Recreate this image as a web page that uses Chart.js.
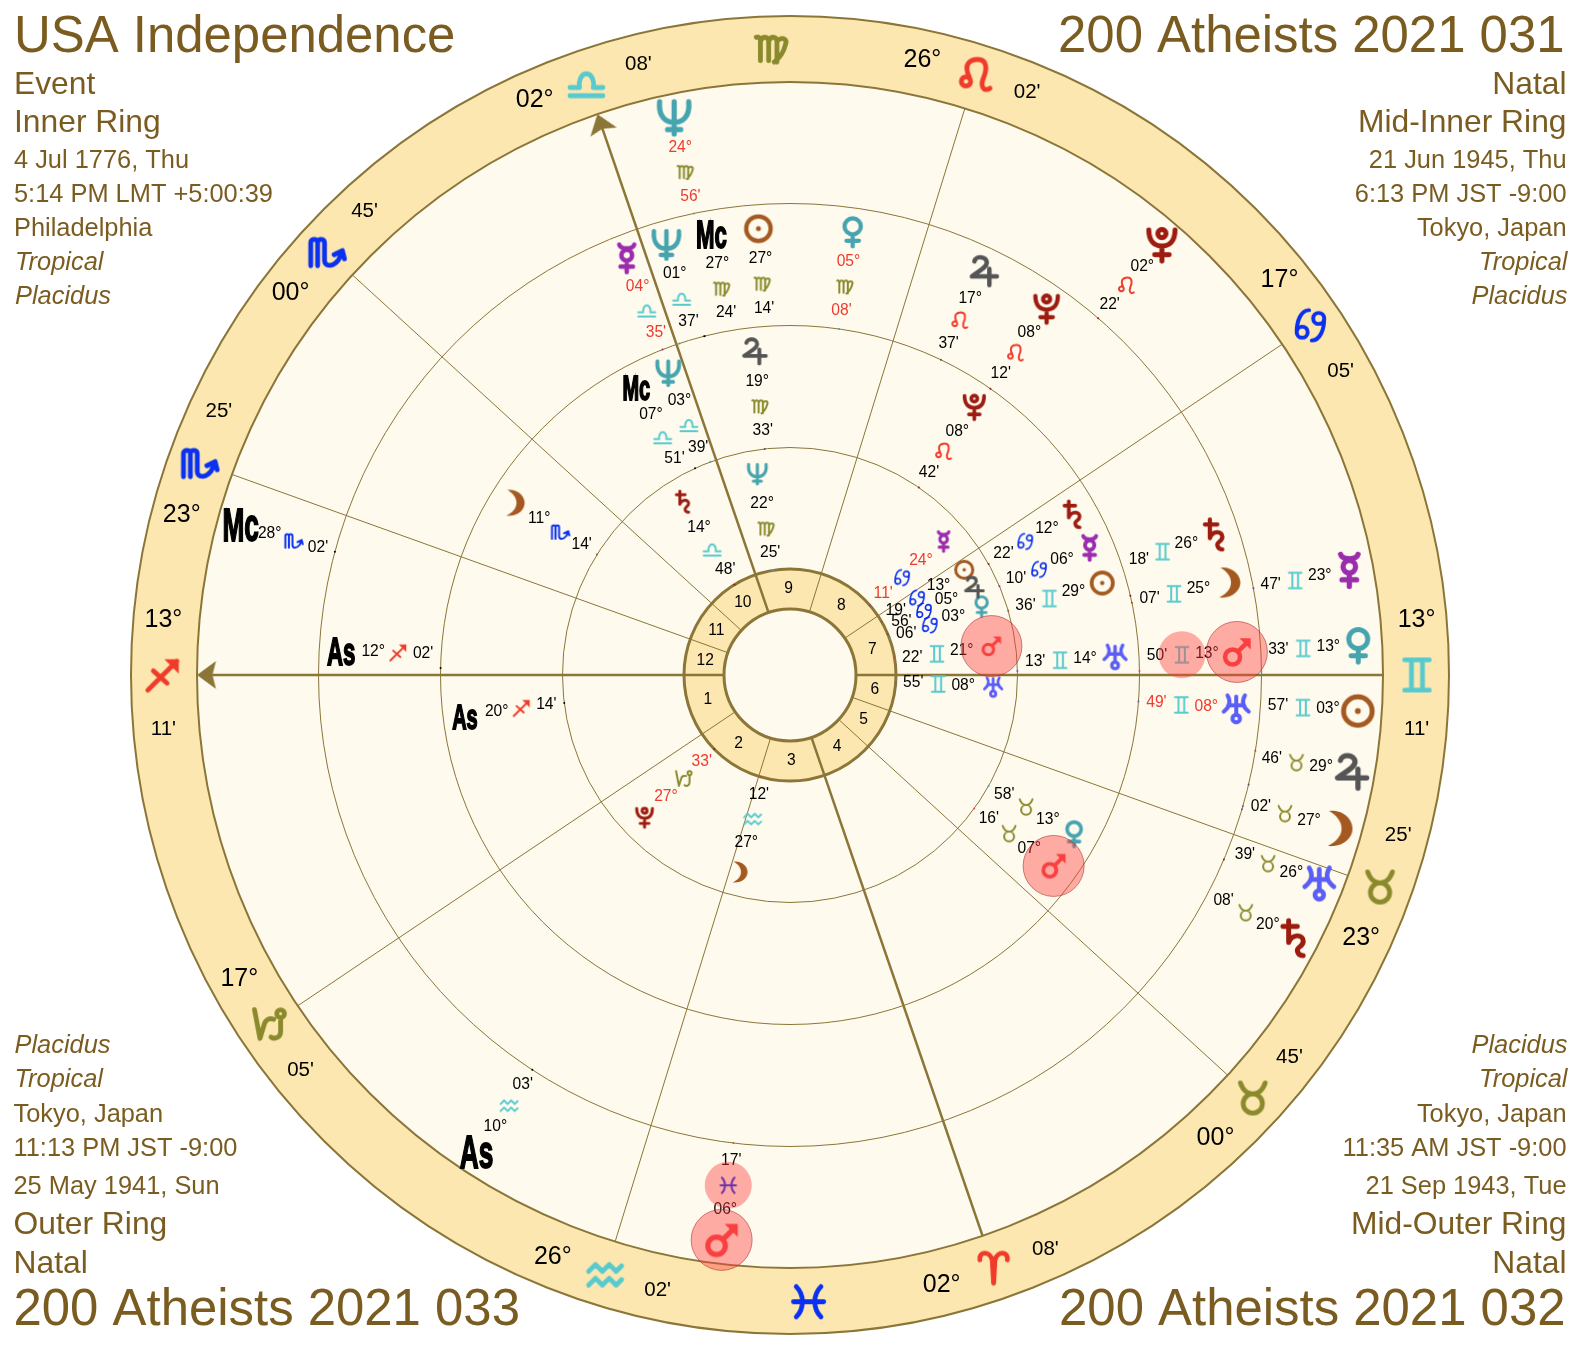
<!DOCTYPE html>
<html>
<head>
<meta charset="utf-8">
<title>USA Independence quad-wheel</title>
<script src="https://cdn.jsdelivr.net/npm/chart.js@4"></script>
<style>
  html, body { margin: 0; padding: 0; background: #fff; }
  canvas { display: block; }
</style>
</head>
<body>
<canvas id="wheel" width="1580" height="1350"></canvas>
<script>
// ── Data ─────────────────────────────────────────────────────
const signNames = ['Ari','Tau','Gem','Can','Leo','Vir','Lib','Sco','Sag','Cap','Aqu','Pis'];
const bodyNames = ['Sun','Moon','Mercury','Venus','Mars','Jupiter','Saturn','Uranus','Neptune','Pluto','Mc','As'];

// house cusps 1..12
const cuspSigns = ['Sag','Cap','Aqu','Ari','Tau','Tau','Gem','Can','Leo','Lib','Sco','Sco'];
const cuspDegs  = [13,17,26,2,0,23,13,17,26,2,0,23];
const cuspMins  = [11,5,2,8,45,25,11,5,2,8,45,25];
const interceptedSigns = ['Vir','Pis'];
const interceptedAfterCusp = [8,2];

// inner ring: USA Independence
const innerSigns = ['Can','Aqu','Can','Can','Gem','Can','Lib','Gem','Vir','Cap'];
const innerDegs  = [13,27,24,3,21,5,14,8,22,27];
const innerMins  = [19,12,11,6,22,56,48,55,25,33];
const innerRetro = ['Mercury','Pluto'];

// mid-inner ring: 200 Atheists 2021 031
const midInnerSigns = ['Gem','Sco','Can','Tau','Tau','Vir','Can','Gem','Lib','Leo','Lib','Sag'];
const midInnerDegs  = [29,11,6,13,7,19,12,14,3,8,7,20];
const midInnerMins  = [36,14,10,58,16,33,22,13,39,42,51,14];
const midInnerRetro = [];

// mid-outer ring: 200 Atheists 2021 032
const midOuterSigns = ['Vir','Gem','Lib','Vir','Gem','Leo','Gem','Gem','Lib','Leo','Vir','Sag'];
const midOuterDegs  = [27,25,4,5,13,17,26,8,1,8,27,12];
const midOuterMins  = [14,7,35,8,50,37,18,49,37,12,24,2];
const midOuterRetro = ['Mercury','Venus','Uranus'];

// outer ring: 200 Atheists 2021 033
const outerSigns = ['Gem','Tau','Gem','Gem','Pis','Tau','Tau','Tau','Vir','Leo','Sco','Aqu'];
const outerDegs  = [3,27,23,13,6,29,20,26,24,2,28,10];
const outerMins  = [57,2,47,33,17,46,8,39,56,22,2,3];
const outerRetro = ['Neptune'];

const houseNumbers = ['1','2','3','4','5','6','7','8','9','10','11','12'];

const topLeftText = ['USA Independence','Event','Inner Ring','4 Jul 1776, Thu','5:14 PM LMT +5:00:39','Philadelphia','Tropical','Placidus'];
const topRightText = ['200 Atheists 2021 031','Natal','Mid-Inner Ring','21 Jun 1945, Thu','6:13 PM JST -9:00','Tokyo, Japan','Tropical','Placidus'];
const bottomLeftText = ['200 Atheists 2021 033','Natal','Outer Ring','25 May 1941, Sun','11:13 PM JST -9:00','Tokyo, Japan','Tropical','Placidus'];
const bottomRightText = ['200 Atheists 2021 032','Natal','Mid-Outer Ring','21 Sep 1943, Tue','11:35 AM JST -9:00','Tokyo, Japan','Tropical','Placidus'];

// ── Layout and style ─────────────────────────────────────────
const W = 1580, H = 1350;
const CX = 790, CY = 675;
const R_OUT = 659, R_BAND = 593, R_HOUSE = 106, R_HOLE = 66;
const RING_OUTER = [227.5, 349.5, 471.5, 593];
const RING_INNER = [106, 227.5, 349.5, 471.5];
const OFF_GLYPH = 24, OFF_DEG = 54, OFF_SIGN = 79, OFF_MIN = 104;
const GLYPH_SIZE = [21, 26, 30, 35];
const ANGLE_FONT = [0, 35, 39, 46];
const ANGLE_NUDGE = { As: { x: -3, y: 5 }, Mc: { x: -1, y: 1.5 } };

// sideways shift (degrees) the wheel applies so crowded glyphs don't collide
const NUDGE = [
  { Sun: 1, Jupiter: 2.8, Venus: -0.2, Uranus: 0.8, Moon: 1.4 },
  { Uranus: 2.1, Mc: 3.4, Neptune: 1.5, Saturn: 0.4 },
  { Sun: -10, Mc: -4.2, Neptune: -2.4, Mars: 2.3, Saturn: 5.2, As: -2.1 },
  { Venus: 2.6, Sun: 5.6, Jupiter: 3.6, Moon: 0.5, Uranus: -5, Saturn: -4.5 }
];
const SIGN_CIRCLE_RINGS = [2, 3];

const C = {
  band: '#FCE7B1', cream: '#FEFAEE', line: '#8B7638', text: '#7B5C20',
  red: '#F03A2E', ink: '#000'
};
const BODY_COLOR = {
  Sun:'#A3591F', Moon:'#A3591F', Mercury:'#9A2DAD', Venus:'#46A4AE', Mars:'#F44343',
  Jupiter:'#555', Saturn:'#9C1C10', Uranus:'#5A5DF6', Neptune:'#46A4AE', Pluto:'#9C1C10',
  Mc:'#000', As:'#000'
};
const SIGN_COLOR = {
  Ari:'#F03A2A', Tau:'#8A8A2C', Gem:'#58CACE', Can:'#0A30F0', Leo:'#F03A2A', Vir:'#8A8A2C',
  Lib:'#58CACE', Sco:'#0A30F0', Sag:'#F03A2A', Cap:'#8A8A2C', Aqu:'#58CACE', Pis:'#0A30F0'
};

// ── Glyph shapes (24 unit box, drawn into small canvases used as point styles) ──
const circ = (x, y, r) => `M${x - r} ${y}a${r} ${r} 0 1 0 ${2 * r} 0a${r} ${r} 0 1 0 ${-2 * r} 0`;
const GLYPHS = {
  Sun:     { s: circ(0, 0, 9.8), f: circ(0, 0, 2), w: 3.4 },
  Moon:    { f: 'M-6 -12C4 -13 10 -6 10 0C10 7 3 13 -7 12C-1 9 2.5 5 2.5 0C2.5 -5 -1 -9 -6 -12Z' },
  Mercury: { s: 'M-6 -11C-5 -7 5 -7 6 -11' + circ(0, -2.5, 4.3) + 'M0 2V11M-5 6.5H5', w: 3.6 },
  Venus:   { s: circ(0, -4.5, 6.5) + 'M0 2V11.5M-5 7H5', w: 3.4 },
  Mars:    { s: circ(-3.5, 4, 6) + 'M1 -.5L8 -7.5', f: 'M2 -11H11V-2Z', w: 3.6 },
  Jupiter: { s: 'M-7 -8C-6 -13 3 -12 3 -7C3 -3 -4 0 -9 4H11M5 -2V11', w: 3.6 },
  Saturn:  { s: 'M-8 -8H2M-4 -12V3C-2 -3 6 -3 6 2C6 6 1 6 2 9C2.5 11 4 12 6 12', w: 3.4 },
  Uranus:  { s: 'M-7 -11C-4 -6 -5 -2 -10 2M7 -11C4 -6 5 -2 10 2M0 -10V4M-6 -3H6' + circ(0, 7.5, 3), w: 3.2 },
  Neptune: { s: 'M-10 -11C-11 0 -5 3 0 3C5 3 11 0 10 -11M0 -11V11M-4.5 8H4.5', w: 3.6 },
  Pluto:   { s: 'M-9 -10C-9 -2 -5 1 0 1C5 1 9 -2 9 -10M0 1V11.5M-5 7H5' + circ(0, -7.5, 2.8), w: 3.4 },
  Ari:     { s: 'M-10 -6C-11 -12 -3 -13 -1 -6L0 11M10 -6C11 -12 3 -13 1 -6L0 11' },
  Tau:     { s: circ(0, 4, 7) + 'M-9 -11C-7 -5 -3 -3 0 -3C3 -3 7 -5 9 -11' },
  Gem:     { s: 'M-9 -11H9M-9 11H9M-4 -11V11M4 -11V11' },
  Can:     { s: circ(-6, 5, 4) + 'M-10 5C-10 -3 -7 -11 -1 -11' + circ(6, -5, 4) + 'M10 -5C10 3 7 11 1 11', w: 2.3 },
  Leo:     { s: circ(-6.5, 4, 3.4) + 'M-4 1C-9 -9 -3 -12 2 -12C9 -12 9 -5 6 2C4 7 6 12 11 9' },
  Vir:     { s: 'M-11 -8C-9 -9 -8 -7 -8 -5V9M-8 -5C-7 -9 -2 -9 -2 -5V9M-2 -5C-1 -9 4 -9 4 -5V10M4 -5C8 -9 12 -7 10 -2C9 2 6 7 2 10' },
  Lib:     { s: 'M-12 10H12M-12 4H-5C-6 0 -4 -6 0 -6C4 -6 6 0 5 4H12' },
  Sco:     { s: 'M-12 10V-7C-12 -10 -7 -10 -7 -7V10M-7 -7C-7 -10 -2 -10 -2 -7V6C-2 11 4 11 8 6L11 0M5 2L11 -1L12.5 5' },
  Sag:     { s: 'M-11 11L10 -10M-7 -3L3 6', f: 'M1 -11.5H11.5V-1Z' },
  Cap:     { s: 'M-11 -11L-7 10L-4 0C-3 -4 0 -5 3 -4' + circ(8, -8, 2.8) + 'M8 -5V5C8 9 4 11 1 9' },
  Aqu:     { s: 'M-12 -2L-7 -7L-2 -2L3 -7L8 -2L12 -6M-12 8L-7 3L-2 8L3 3L8 8L12 4' },
  Pis:     { s: 'M-9 -11C-3 -5 -3 5 -9 11M9 -11C3 -5 3 5 9 11M-11 0H11' }
};

const glyphCache = {};
function glyph(name, color, size, heavy) {
  const key = [name, color, size, heavy].join('|');
  if (glyphCache[key]) return glyphCache[key];
  const def = GLYPHS[name];
  const cv = document.createElement('canvas');
  cv.width = cv.height = Math.ceil(size * 1.4);
  const g = cv.getContext('2d');
  g.translate(cv.width / 2, cv.height / 2);
  g.scale(size / 24, size / 24);
  g.lineCap = 'round';
  g.lineJoin = 'round';
  g.strokeStyle = g.fillStyle = color;
  g.lineWidth = (def.w || 2.8) * (heavy || 1);
  if (def.s) g.stroke(new Path2D(def.s));
  if (def.f) g.fill(new Path2D(def.f));
  glyphCache[key] = cv;
  return cv;
}

function arrowHead() {
  const cv = document.createElement('canvas');
  cv.width = 32; cv.height = 26;
  const g = cv.getContext('2d');
  g.translate(16, 13);
  g.fillStyle = C.line;
  g.fill(new Path2D('M0 -9.5L14 9.5L0 6L-14 9.5Z'));
  return cv;
}

// ── Helpers ──────────────────────────────────────────────────
const longitude = (sign, deg, min) => signNames.indexOf(sign) * 30 + deg + min / 60;
const ASC_LON = longitude(cuspSigns[0], cuspDegs[0], cuspMins[0]);
const screenAngle = lon => lon - ASC_LON + 180;
function polar(angle, r) {
  const a = angle * Math.PI / 180;
  return { x: r * Math.cos(a), y: r * Math.sin(a) };
}
const pad = n => String(n).padStart(2, '0');
const norm = a => (a % 360 + 360) % 360;

const cuspAngles = cuspSigns.map((s, i) => norm(screenAngle(longitude(s, cuspDegs[i], cuspMins[i]))));

const rings = [
  { signs: innerSigns, degs: innerDegs, mins: innerMins, retro: innerRetro },
  { signs: midInnerSigns, degs: midInnerDegs, mins: midInnerMins, retro: midInnerRetro },
  { signs: midOuterSigns, degs: midOuterDegs, mins: midOuterMins, retro: midOuterRetro },
  { signs: outerSigns, degs: outerDegs, mins: outerMins, retro: outerRetro }
];

// ── Datasets ─────────────────────────────────────────────────
const datasets = [];
function addLayer(ds) {
  ds.order = 1000 - datasets.length;
  datasets.push(ds);
  return ds;
}
function disc(r, fill, stroke, width) {
  addLayer({ data: [{ x: 0, y: 0 }], pointRadius: r, pointBackgroundColor: fill, pointBorderColor: stroke, pointBorderWidth: width });
}
function pointLayer(list) {
  addLayer({
    data: list.map(p => ({ x: p.x, y: p.y })),
    pointRadius: 10,
    pointStyle: list.map(p => p.style),
    pointRotation: list.map(p => p.rot || 0)
  });
}

disc(R_OUT, C.band, C.line, 2);
disc(R_BAND, C.cream, C.line, 2);
RING_OUTER.slice(0, 3).forEach(r => disc(r, 'rgba(0,0,0,0)', C.line, 1));
disc(R_HOUSE, C.band, C.line, 3);

cuspAngles.forEach((a, i) => {
  const axis = i % 3 === 0;
  const arrowed = i === 0 || i === 9;
  addLayer({
    data: [polar(a, R_HOLE), polar(a, arrowed ? R_BAND - 8 : R_BAND)],
    showLine: true, pointRadius: 0,
    borderColor: C.line, borderWidth: axis ? 2.5 : 1
  });
});
disc(R_HOLE, C.cream, C.line, 3);

// arrows on As and Mc
const arrow = arrowHead();
pointLayer([cuspAngles[0], cuspAngles[9]].map(a => ({
  ...polar(a, R_BAND - 9.5), style: arrow, rot: 90 - a
})));

// little ticks at true longitude on the inner edge of each ring
rings.forEach((ring, k) => {
  const pts = ring.signs.map((s, i) => polar(screenAngle(longitude(s, ring.degs[i], ring.mins[i])), RING_INNER[k]));
  addLayer({
    data: pts, pointRadius: 1, pointBorderWidth: 0,
    pointBackgroundColor: ring.signs.map((s, i) => BODY_COLOR[bodyNames[i]])
  });
});

// zodiac glyphs in the band, on each cusp and for the intercepted signs
const bandGlyphs = cuspSigns.map((s, i) => ({ ...polar(cuspAngles[i], 627), style: glyph(s, SIGN_COLOR[s], 33, 1.25) }));
interceptedSigns.forEach((s, i) => {
  const c = interceptedAfterCusp[i];
  const a0 = cuspAngles[c];
  let a1 = cuspAngles[c + 1];
  while (a1 < a0) a1 += 360;
  bandGlyphs.push({ ...polar((a0 + a1) / 2 + 0.8, 627), style: glyph(s, SIGN_COLOR[s], 33, 1.25) });
});
pointLayer(bandGlyphs);

// body and small sign glyphs of the four rings
const ringMarks = [];
const ringLabels = [];
const marsCircles = [];
rings.forEach((ring, k) => {
  const top = RING_OUTER[k];
  ring.signs.forEach((sign, i) => {
    const body = bodyNames[i];
    const a = screenAngle(longitude(sign, ring.degs[i], ring.mins[i])) + (NUDGE[k][body] || 0);
    const isAngle = body === 'Mc' || body === 'As';
    if (!isAngle) ringMarks.push({ ...polar(a, top - OFF_GLYPH), style: glyph(body, BODY_COLOR[body], GLYPH_SIZE[k]) });
    ringMarks.push({ ...polar(a, top - OFF_SIGN), style: glyph(sign, SIGN_COLOR[sign], 17) });
    const color = ring.retro.includes(body) ? C.red : C.ink;
    ringLabels.push({ ...polar(a, top - OFF_DEG), text: pad(ring.degs[i]) + '°', color });
    ringLabels.push({ ...polar(a, top - OFF_MIN), text: pad(ring.mins[i]) + "'", color });
    if (isAngle) ringLabels.push({ ...polar(a, top - OFF_GLYPH - 1), text: body, color: C.ink, angle: ANGLE_FONT[k] });
    if (body === 'Mars') {
      marsCircles.push({ ...polar(a, top - OFF_GLYPH), r: 30.5, w: 1 });
      if (SIGN_CIRCLE_RINGS.includes(k)) marsCircles.push({ ...polar(a, top - OFF_SIGN), r: 23.5, w: 0 });
    }
  });
});
pointLayer(ringMarks);

// highlight discs go over the text, so labels are painted just before this layer
addLayer({
  id: 'highlight',
  data: marsCircles.map(c => ({ x: c.x, y: c.y })),
  pointRadius: marsCircles.map(c => c.r),
  pointBackgroundColor: 'rgba(255,62,62,0.42)',
  pointBorderColor: 'rgba(170,40,40,0.55)',
  pointBorderWidth: marsCircles.map(c => c.w)
});

// ── Text plugin ──────────────────────────────────────────────
const SANS = '"Liberation Sans", Arial, sans-serif';
const BLOCK_FONT = [50.9, 31.8, 31.8, 25.4, 25.4, 25.4, 25.4, 25.4];
const TOP_BASE = [52, 93.5, 132, 167.7, 201.7, 235.7, 270, 303.5];
const BOTTOM_BASE = [1325, 1272.7, 1234.3, 1194, 1155.7, 1121.7, 1087, 1053];

function drawBlock(ctx, lines, x, align, bases, titleShift) {
  ctx.fillStyle = C.text;
  ctx.textAlign = align;
  ctx.textBaseline = 'alphabetic';
  lines.forEach((t, i) => {
    const italic = i >= 6;
    ctx.font = `${italic ? 'italic ' : ''}${BLOCK_FONT[i]}px ${SANS}`;
    ctx.fillText(t, x + (italic ? 1 : 0) + (i === 0 ? titleShift : 0), bases[i]);
  });
}

const textPlugin = {
  id: 'wheelText',
  beforeDatasetDraw(chart, args) {
    if (chart.data.datasets[args.index].id !== 'highlight') return;
    const ctx = chart.ctx;
    const px = p => chart.scales.x.getPixelForValue(p.x);
    const py = p => chart.scales.y.getPixelForValue(p.y);
    ctx.save();
    ctx.textAlign = 'center';
    ctx.textBaseline = 'middle';

    // cusp degrees and minutes in the band
    cuspAngles.forEach((a, i) => {
      const side = norm(a) < 180 ? 5 : -5;
      const d = polar(a + side, 629), m = polar(a - side, 629);
      ctx.fillStyle = C.ink;
      ctx.font = `25px ${SANS}`;
      ctx.fillText(pad(cuspDegs[i]) + '°', px(d), py(d));
      ctx.font = `20.5px ${SANS}`;
      ctx.fillText(pad(cuspMins[i]) + "'", px(m), py(m));
    });

    // house numbers
    ctx.font = `15.6px ${SANS}`;
    ctx.fillStyle = C.ink;
    houseNumbers.forEach((n, i) => {
      const a0 = cuspAngles[i];
      let a1 = cuspAngles[(i + 1) % 12];
      while (a1 < a0) a1 += 360;
      const p = polar((a0 + a1) / 2, 86);
      ctx.fillText(n, px(p), py(p));
    });

    // ring labels
    ringLabels.forEach(l => {
      ctx.fillStyle = l.color;
      if (l.angle) {
        const shift = ANGLE_NUDGE[l.text];
        ctx.save();
        ctx.translate(px(l) + shift.x, py(l) + shift.y);
        ctx.scale(0.57, 1);
        ctx.font = `bold ${l.angle}px "Liberation Sans Narrow", ${SANS}`;
        ctx.strokeStyle = l.color;
        ctx.lineWidth = 1.8;
        ctx.strokeText(l.text, 0, 0);
        ctx.fillText(l.text, 0, 0);
        ctx.restore();
      } else {
        ctx.font = `15.6px ${SANS}`;
        ctx.fillText(l.text, px(l), py(l));
      }
    });

    // corner blocks
    drawBlock(ctx, topLeftText, 14, 'left', TOP_BASE, 0);
    drawBlock(ctx, topRightText, 1566.5, 'right', TOP_BASE, -2);
    drawBlock(ctx, bottomLeftText, 13.5, 'left', BOTTOM_BASE, 0);
    drawBlock(ctx, bottomRightText, 1566.5, 'right', BOTTOM_BASE, -1);
    ctx.restore();
  }
};

// ── Chart ────────────────────────────────────────────────────
new Chart(document.getElementById('wheel'), {
  type: 'scatter',
  data: { datasets },
  options: {
    responsive: false,
    animation: false,
    events: [],
    layout: { autoPadding: false, padding: 0 },
    plugins: { legend: { display: false }, tooltip: { enabled: false } },
    scales: {
      x: { type: 'linear', min: -CX, max: W - CX, display: false },
      y: { type: 'linear', min: CY - H, max: CY, display: false }
    }
  },
  plugins: [textPlugin]
});
</script>
</body>
</html>
